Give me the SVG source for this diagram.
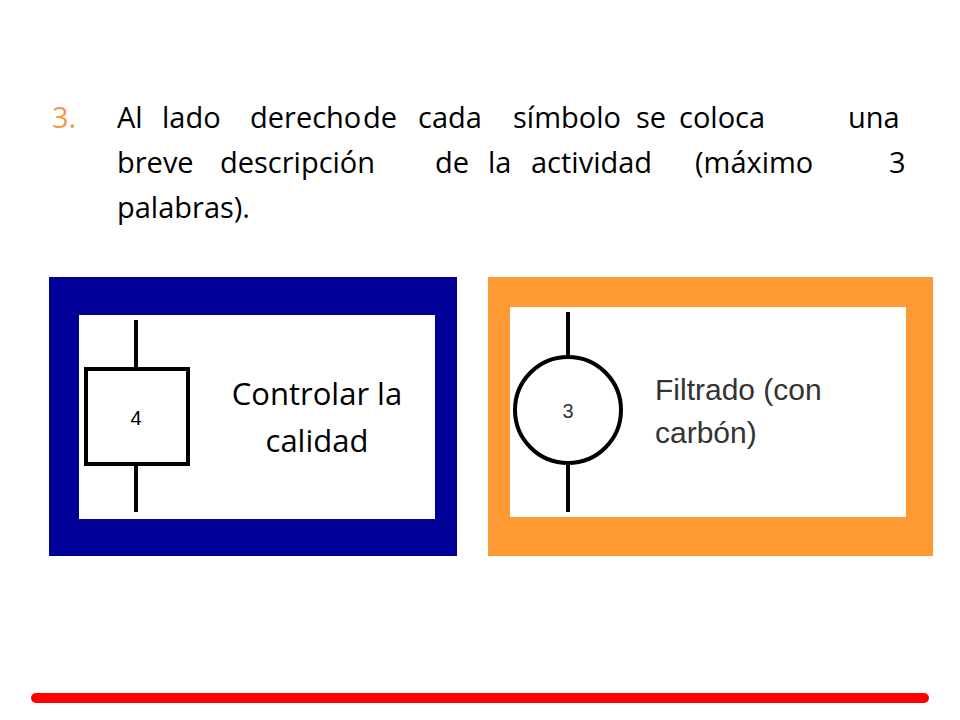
<svg xmlns="http://www.w3.org/2000/svg" width="960" height="720" viewBox="0 0 960 720">
<style>
.t{font-family:"Open Sans","Liberation Sans",sans-serif;font-size:29px;fill:#000}
.a{font-family:"Liberation Sans",Arial,sans-serif;fill:#333}
.s{fill:none;stroke:#000;stroke-width:4}
</style>
<rect width="960" height="720" fill="#fff"/>
<g id="texto">
<text class="t" x="52" y="128" fill="#F79646" style="fill:#F79646">3.</text>
<text class="t" y="128"><tspan x="117">Al</tspan><tspan x="162">lado</tspan><tspan x="250">derecho</tspan><tspan x="363">de</tspan><tspan x="418">cada</tspan><tspan x="513">símbolo</tspan><tspan x="636">se</tspan><tspan x="679">coloca</tspan><tspan x="848">una</tspan></text>
<text class="t" y="173"><tspan x="117">breve</tspan><tspan x="220">descripción</tspan><tspan x="435">de</tspan><tspan x="488">la</tspan><tspan x="531">actividad</tspan><tspan x="695">(máximo</tspan><tspan x="889">3</tspan></text>
<text class="t" x="117" y="218">palabras).</text>
</g>
<g id="panel-izq">
<rect x="49" y="277" width="408" height="279" fill="#000099"/>
<rect x="79" y="315" width="356" height="204" fill="#fff"/>
<rect x="86" y="369" width="102" height="95" class="s"/>
<line x1="136" y1="320" x2="136" y2="369" class="s"/>
<line x1="136" y1="464" x2="136" y2="512" class="s"/>
<text class="a" x="136" y="425" font-size="20" text-anchor="middle" style="fill:#000">4</text>
<text class="t" x="317" y="405" font-size="31" text-anchor="middle" style="font-size:31px">Controlar la</text>
<text class="t" x="317" y="452" text-anchor="middle" style="font-size:31px">calidad</text>
</g>
<g id="panel-der">
<rect x="488" y="277" width="445" height="279" fill="#FF9933"/>
<rect x="510" y="307" width="396" height="210" fill="#fff"/>
<circle cx="568" cy="410" r="53" class="s"/>
<line x1="568" y1="312" x2="568" y2="357" class="s"/>
<line x1="568" y1="463" x2="568" y2="512" class="s"/>
<text class="a" x="568" y="418" font-size="20" text-anchor="middle">3</text>
<text class="a" x="655" y="400" font-size="30">Filtrado (con</text>
<text class="a" x="655" y="443" font-size="30">carbón)</text>
</g>
<line x1="36" y1="698" x2="924" y2="698" stroke="#FF0000" stroke-width="10" stroke-linecap="round"/>
</svg>
